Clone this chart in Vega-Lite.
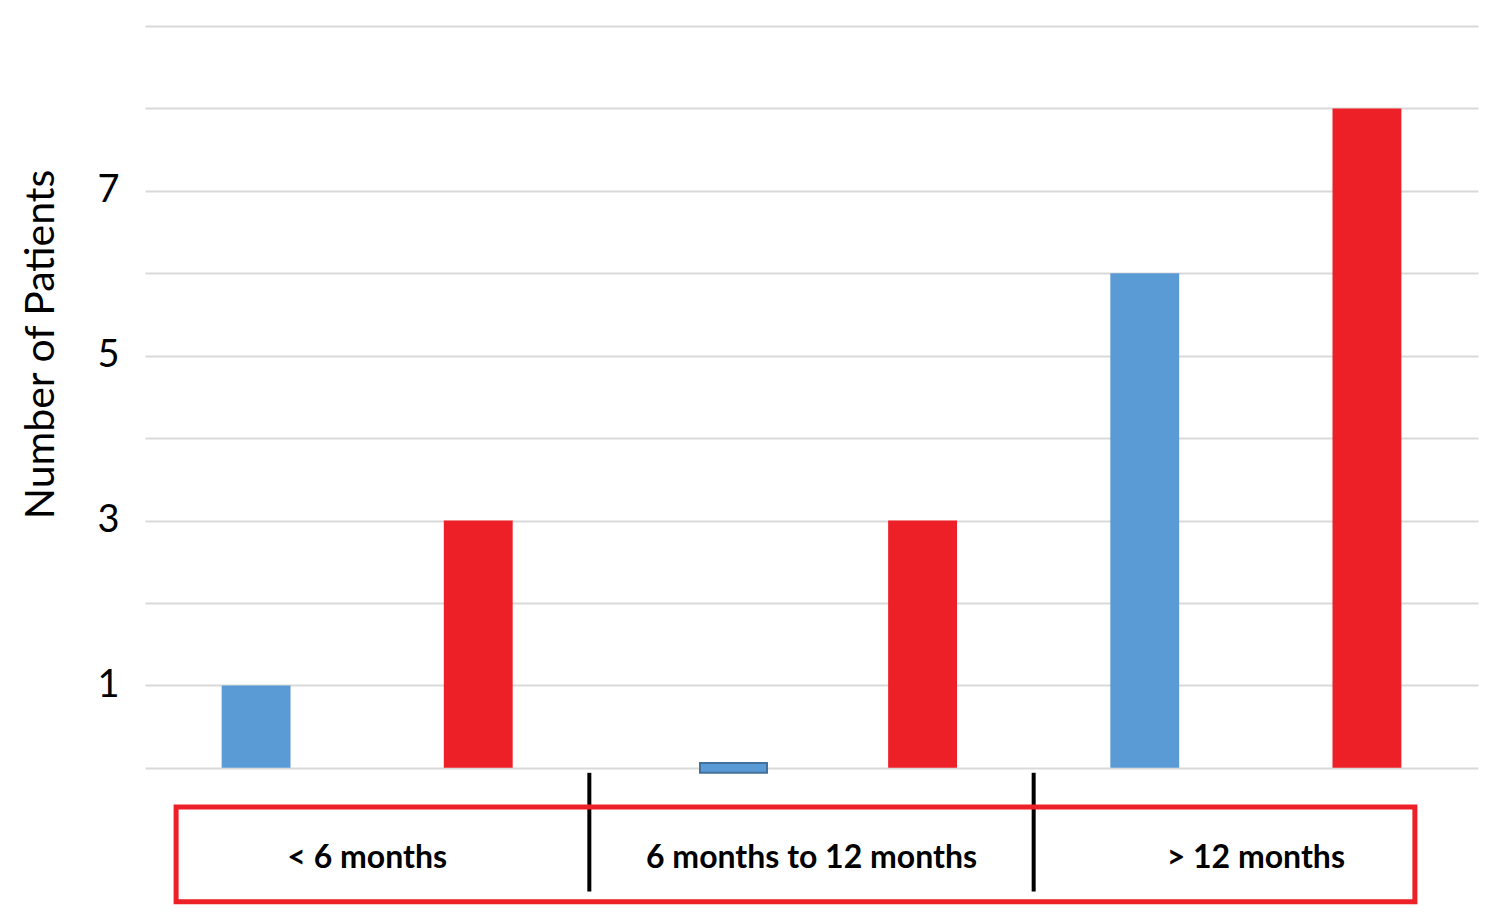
{
  "$schema": "https://vega.github.io/schema/vega-lite/v6.json",
  "width": 1333,
  "height": 882,
  "autosize": {"type": "none"},
  "padding": {"left": 145, "top": 26, "right": 22, "bottom": 15},
  "background": "white",
  "config": {"view": {"stroke": null}, "font": "Lato"},
  "data": {
    "values": [
      {"period": "< 6 months", "series": "Series 1", "count": 1},
      {"period": "< 6 months", "series": "Series 2", "count": 3},
      {"period": "6 months to  12 months", "series": "Series 1", "count": 0},
      {"period": "6 months to  12 months", "series": "Series 2", "count": 3},
      {"period": "> 12 months", "series": "Series 1", "count": 6},
      {"period": "> 12 months", "series": "Series 2", "count": 8}
    ]
  },
  "layer": [
    {
      "transform": [{"filter": "datum.count > 0"}],
      "mark": "bar",
      "encoding": {
        "x": {
          "field": "period",
          "type": "nominal",
          "axis": null,
          "scale": {
            "domain": ["< 6 months", "6 months to  12 months", "> 12 months"],
            "paddingInner": 0,
            "paddingOuter": 0
          }
        },
        "xOffset": {
          "field": "series",
          "type": "nominal",
          "scale": {"paddingInner": 0.69, "paddingOuter": 0.345}
        },
        "y": {
          "field": "count",
          "type": "quantitative",
          "scale": {"domain": [-1.7, 9], "nice": false},
          "axis": {
            "title": "Number of Patients",
            "values": [0, 1, 2, 3, 4, 5, 6, 7, 8, 9],
            "format": "d",
            "labelExpr": "indexof([1, 3, 5, 7], datum.value) >= 0 ? datum.label : ''",
            "domain": false,
            "ticks": false,
            "grid": true,
            "gridColor": "#D9D9D9",
            "gridWidth": 2,
            "labelFontSize": 38,
            "labelColor": "black",
            "labelPadding": 26,
            "titleFontSize": 41,
            "titleFontWeight": "normal",
            "titleColor": "black",
            "titleX": -92,
            "titleY": 318,
            "titleBaseline": "alphabetic"
          }
        },
        "color": {
          "field": "series",
          "type": "nominal",
          "scale": {"domain": ["Series 1", "Series 2"], "range": ["#5B9BD5", "#ED1F27"]},
          "legend": null
        }
      }
    },
    {
      "transform": [{"filter": "datum.count == 0"}],
      "mark": {"type": "bar", "width": 67, "xOffset": -78, "fill": "#5B9BD5", "stroke": "#41719C", "strokeWidth": 2},
      "encoding": {
        "x": {"field": "period", "type": "nominal"},
        "y": {"datum": 0.06},
        "y2": {"datum": -0.06}
      }
    },
    {
      "data": {"values": [{"period": "6 months to  12 months"}, {"period": "> 12 months"}]},
      "mark": {"type": "rule", "color": "black", "strokeWidth": 4},
      "encoding": {
        "x": {"field": "period", "type": "nominal", "bandPosition": 0},
        "y": {"datum": -0.06},
        "y2": {"datum": -1.5}
      }
    },
    {
      "data": {"values": [{}]},
      "mark": {"type": "bar", "fillOpacity": 0, "stroke": "#ED1F27", "strokeWidth": 5, "width": {"band": 2.788}, "xOffset": -16},
      "encoding": {
        "x": {"datum": "6 months to  12 months", "type": "nominal"},
        "y": {"datum": -0.475},
        "y2": {"datum": -1.625}
      }
    },
    {
      "transform": [{"filter": "datum.series == 'Series 1'"}],
      "mark": {"type": "text", "fontSize": 32, "fontWeight": "bold", "color": "black", "baseline": "middle"},
      "encoding": {
        "x": {"field": "period", "type": "nominal"},
        "y": {"datum": -1.09},
        "text": {"field": "period"}
      }
    }
  ]
}
